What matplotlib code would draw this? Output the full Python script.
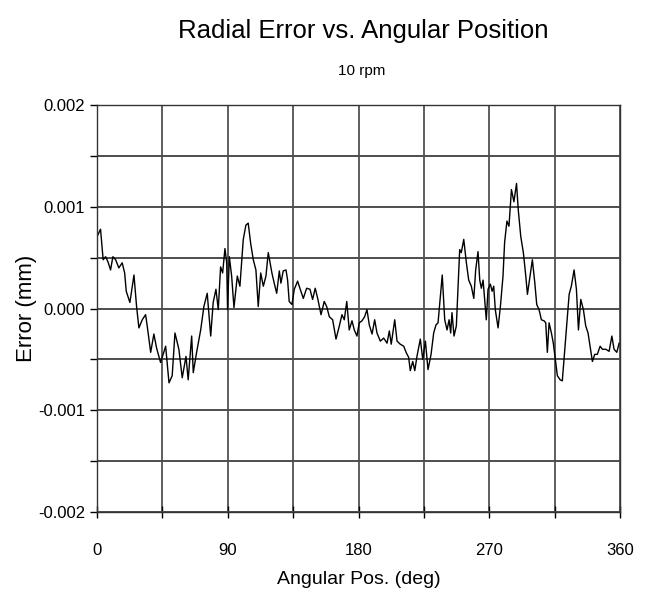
import matplotlib.pyplot as plt
from matplotlib.ticker import MultipleLocator

plt.rcParams['font.family'] = ['Liberation Sans', 'DejaVu Sans']

# Angular position (deg) and radial error (mm)
angle = [0.2, 2.5, 4.3, 6.0, 7.6, 9.4, 11.0, 12.9, 15.1, 17.4, 19.1, 20.2, 22.7, 25.5,
         27.3, 28.9, 31.2, 33.5, 34.6, 37.0, 39.2, 41.1, 43.8, 47.3, 49.6, 51.8, 53.7,
         56.4, 58.7, 61.3, 62.8, 65.2, 66.3, 68.6, 71.4, 73.6, 75.9, 78.3, 80.0, 81.9,
         83.5, 85.1, 86.5, 88.1, 89.3, 89.9, 91.1, 92.7, 94.3, 96.6, 98.4, 100.7, 102.5,
         104.1, 105.8, 107.6, 109.4, 111.0, 112.7, 114.5, 116.3, 117.9, 120.4, 122.0,
         123.7, 125.5, 126.6, 128.2, 130.1, 131.2, 132.3, 134.2, 135.8, 138.1, 139.2,
         142.0, 144.3, 146.6, 148.4, 150.2, 151.9, 154.2, 156.4, 158.1, 159.9, 162.2,
         164.5, 166.8, 168.6, 170.2, 171.9, 173.6, 175.5, 177.1, 178.9, 180.5, 182.4,
         184.2, 185.8, 187.4, 189.3, 191.1, 192.7, 195.0, 197.3, 199.6, 201.2, 202.5,
         204.9, 206.5, 208.7, 211.1, 212.7, 214.5, 215.6, 217.3, 218.7, 220.2, 222.5,
         224.2, 226.0, 227.8, 229.9, 231.7, 233.3, 234.7, 236.3, 237.6, 239.3, 240.9,
         242.3, 243.4, 244.3, 245.7, 247.3, 248.5, 249.6, 250.7, 252.4, 254.2, 255.8,
         257.6, 259.3, 260.6, 262.2, 263.4, 264.5, 265.7, 266.8, 267.9, 269.1, 270.7,
         271.9, 273.0, 274.1, 276.0, 277.6, 279.4, 280.5, 282.1, 283.5, 285.2, 286.9,
         288.7, 289.9, 291.6, 293.4, 295.0, 296.2, 298.0, 299.6, 301.3, 302.6, 304.2,
         305.8, 307.6, 308.8, 309.9, 311.1, 312.7, 314.0, 315.7, 316.8, 318.7, 320.2,
         321.9, 323.3, 324.9, 326.4, 328.3, 329.9, 331.3, 332.9, 334.7, 336.3, 337.9,
         339.3, 340.9, 342.5, 344.3, 346.2, 347.8, 350.1, 352.4, 354.3, 355.8, 357.7,
         359.3]
error = [0.00071, 0.00078, 0.00048, 0.00051, 0.00046, 0.00038, 0.00051, 0.00048, 0.00040,
         0.00045, 0.00035, 0.00017, 0.00006, 0.00033, 0.00002, -0.00019, -0.00011,
         -0.00006, -0.00017, -0.00043, -0.00025, -0.00039, -0.00053, -0.00037, -0.00073,
         -0.00066, -0.00024, -0.00040, -0.00068, -0.00047, -0.00070, -0.00027, -0.00063,
         -0.00043, -0.00021, 0.00002, 0.00015, -0.00027, 0.00006, 0.00019, -0.00001,
         0.00041, 0.00035, 0.00059, 0.00045, -0.00001, 0.00051, 0.00032, 0.00001, 0.00032,
         0.00022, 0.00068, 0.00082, 0.00084, 0.00064, 0.00048, 0.00038, 0.00002, 0.00035,
         0.00022, 0.00032, 0.00055, 0.00035, 0.00025, 0.00015, 0.00037, 0.00025, 0.00037,
         0.00038, 0.00028, 0.00007, 0.00004, 0.00019, 0.00027, 0.00022, 0.00010, 0.00020,
         0.00019, 0.00009, 0.00020, 0.00010, -0.00006, 0.00007, 0.00002, -0.00008,
         -0.00011, -0.00030, -0.00017, -0.00006, -0.00011, 0.00007, -0.00021, -0.00012,
         -0.00021, -0.00027, -0.00014, -0.00012, -0.00008, -0.00001, -0.00016, -0.00025,
         -0.00011, -0.00024, -0.00032, -0.00029, -0.00034, -0.00022, -0.00035, -0.00011,
         -0.00032, -0.00035, -0.00037, -0.00043, -0.00048, -0.00061, -0.00052, -0.00061,
         -0.00047, -0.00030, -0.00050, -0.00032, -0.00060, -0.00045, -0.00024, -0.00016,
         -0.00014, 0.00012, 0.00033, -0.00011, -0.00021, -0.00011, -0.00024, -0.00004,
         -0.00027, -0.00017, 0.00022, 0.00058, 0.00055, 0.00068, 0.00045, 0.00028,
         0.00022, 0.00010, 0.00038, 0.00056, 0.00028, 0.00020, 0.00028, 0.00009,
         -0.00011, 0.00019, 0.00024, 0.00017, 0.00022, -0.00001, -0.00019, 0.00002,
         0.00032, 0.00065, 0.00086, 0.00081, 0.00117, 0.00105, 0.00123, 0.00097, 0.00071,
         0.00055, 0.00033, 0.00014, 0.00032, 0.00048, 0.00025, 0.00004, -0.00001,
         -0.00011, -0.00012, -0.00014, -0.00043, -0.00014, -0.00024, -0.00034, -0.00053,
         -0.00066, -0.00070, -0.00071, -0.00040, -0.00014, 0.00014, 0.00022, 0.00038,
         0.00019, -0.00021, 0.00009, -0.00001, -0.00017, -0.00024, -0.00037, -0.00052,
         -0.00045, -0.00045, -0.00037, -0.00040, -0.00040, -0.00042, -0.00027, -0.00040,
         -0.00043, -0.00034]

xticks = [0, 90, 180, 270, 360]
yticks = [0.002, 0.001, 0.0, -0.001, -0.002]
ytick_labels = ['0.002', '0.001', '0.000', '-0.001', '-0.002']

fig = plt.figure(figsize=(6.46, 5.94), dpi=100)
ax = fig.add_axes([0.150, 0.138, 0.810, 0.685])

ax.plot(angle, error, color='black', linewidth=1.0)

ax.set_xlim(0, 360)
ax.set_ylim(-0.002, 0.002)
ax.set_xticks(xticks)
ax.xaxis.set_minor_locator(MultipleLocator(45))
ax.set_yticks(yticks)
ax.set_yticklabels(ytick_labels)
ax.yaxis.set_minor_locator(MultipleLocator(0.0005))

ax.grid(True, which='both', axis='x', color='#333333', linewidth=1.1)
ax.grid(True, which='both', axis='y', color='#4d4d4d', linewidth=1.4)
ax.set_axisbelow(True)

ax.tick_params(axis='x', which='both', direction='inout', length=8, width=1, labelsize=12, pad=18)
ax.tick_params(axis='y', which='both', direction='out', length=5, width=1, labelsize=12)
for s in ax.spines.values():
    s.set_linewidth(1.0)
    s.set_color('#333333')

ax.set_xlabel('Angular Pos. (deg)', fontsize=14, labelpad=10)
ax.set_ylabel('Error (mm)', fontsize=16, labelpad=1)

fig.text(0.563, 0.948, 'Radial Error vs. Angular Position', fontsize=18.5, ha='center', va='center')
fig.text(0.560, 0.880, '10 rpm', fontsize=11, ha='center', va='center')

plt.savefig('out.png', dpi=100)
